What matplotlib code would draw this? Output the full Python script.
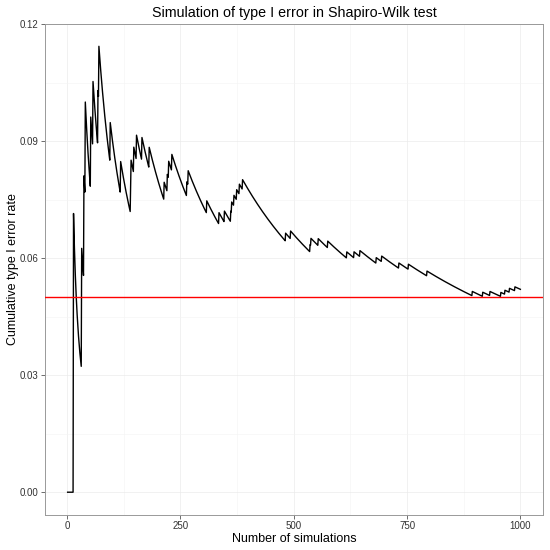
import numpy as np
import matplotlib
matplotlib.use("Agg")
import matplotlib.pyplot as plt
from matplotlib.ticker import MultipleLocator

# simulation numbers where the Shapiro-Wilk test rejected
n_sims = 1000
reject_at = [14, 32, 37, 40, 52, 57, 68, 70, 95, 118,
             140, 141, 147, 153, 165, 181, 214, 221, 224, 231, 264, 267,
             308, 335, 347, 361, 363, 368, 374, 380, 387,
             482, 493, 536, 538, 554, 575, 617, 633, 646, 682, 694,
             732, 753, 794, 894, 917, 933, 957, 966, 976, 988]
alpha = 0.05
x_ticks = [0, 250, 500, 750, 1000]
y_ticks = [0.00, 0.03, 0.06, 0.09, 0.12]

sims = np.arange(1, n_sims + 1)
rejected = np.isin(sims, reject_at)
# cumulative type I error rate
rate = np.cumsum(rejected) / sims

plt.rcParams['font.family'] = ['Liberation Sans', 'DejaVu Sans']

fig = plt.figure(figsize=(5.5, 5.5), dpi=100)
ax = fig.add_axes([45/550, 1 - 514.5/550, 498/550, 490.5/550])

# line of the cumulative rate and the nominal alpha
ax.plot(sims, rate, color='black', linewidth=1.0, zorder=3)
ax.axhline(alpha, color='red', linewidth=1.0, zorder=4)

# ggplot style limits with 5% expansion
xr = sims.max() - sims.min()
ax.set_xlim(sims.min() - 0.05 * xr, sims.max() + 0.05 * xr)
yr = rate.max() - rate.min()
ax.set_ylim(rate.min() - 0.05 * yr, rate.max() + 0.05 * yr)

ax.set_xticks(x_ticks)
ax.set_yticks(y_ticks)
ax.set_yticklabels(['%.2f' % v for v in y_ticks])
ax.xaxis.set_minor_locator(MultipleLocator(125))
ax.yaxis.set_minor_locator(MultipleLocator(0.015))

# theme_bw look
ax.grid(True, which='major', color='#EBEBEB', linewidth=0.5)
ax.grid(True, which='minor', color='#F4F4F4', linewidth=0.4)
ax.set_axisbelow(True)
for s in ax.spines.values():
    s.set_color('#999999')
    s.set_linewidth(0.7)
ax.tick_params(which='major', length=3, width=0.6, color='#555555',
               labelsize=7, labelcolor='#333333', pad=2)
ax.tick_params(which='minor', length=0)

ax.set_xlabel('Number of simulations', fontsize=9)
ax.xaxis.set_label_coords(0.5, -0.037)
ax.set_ylabel('Cumulative type I error rate', fontsize=9)
ax.yaxis.set_label_coords(-0.052, 0.5)
ax.set_title('Simulation of type I error in Shapiro-Wilk test', fontsize=10.3, pad=5)

fig.savefig('out.png', dpi=100, facecolor='white')
